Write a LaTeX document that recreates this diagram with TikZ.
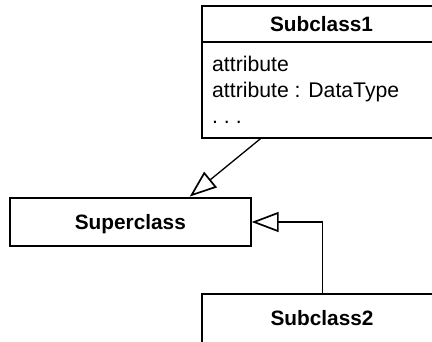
\documentclass[tikz,border=0pt]{standalone}
\usepackage{fontspec}
\setmainfont{Liberation Sans}
\usetikzlibrary{arrows.meta}

\tikzset{
  classbox/.style={draw, line width=2pt, rectangle, inner sep=0pt, fill=white},
  classname/.style={font=\fontsize{20.8}{25}\selectfont\bfseries, inner sep=0pt, anchor=base},
  attrtext/.style={font=\fontsize{21.2}{26}\selectfont, inner sep=0pt, anchor=base west},
  generalization/.style={line width=1.3pt,
    -{Triangle[open, length=27pt, width=20pt, line width=1.7pt]}},
}

\begin{document}
\begin{tikzpicture}[x=1pt, y=-1pt]
  \useasboundingbox (0,0) rectangle (432,341);
  \fill[white] (0,0) rectangle (432,341);
  \clip (0,0) rectangle (432,341);

  % Subclass1 with attribute compartment
  \node[classbox, minimum width=239pt, minimum height=131.8pt] (sub1) at (321.5,71.6) {};
  \draw[line width=2pt] (sub1.west |- 0,42.3) coordinate (sub1div) -- (sub1.east |- 0,42.3);
  \node[classname] (sub1name) at (321.5,31) {Subclass1};
  \node[attrtext] (attr1) at (212,71.7) {attribute};
  \node[attrtext] (attr2) at (212,97) {attribute : DataType};
  \node[attrtext] (attr3) at (212,123.5) {.\ .\ .};

  % Superclass
  \node[classbox, minimum width=240.7pt, minimum height=48.8pt] (sup) at (130.35,222) {};
  \node[classname] (supname) at (130.35,229.3) {Superclass};

  % Subclass2 (runs past the lower edge)
  \node[classbox, minimum width=239.5pt, minimum height=100pt] (sub2) at (322,344.3) {};
  \node[classname] (sub2name) at (322,325) {Subclass2};

  % generalization arrows
  \draw[generalization] ([xshift=59.7pt]sub1.south west) -- ([xshift=180.7pt]sup.north west);
  \draw[generalization] ([xshift=0.7pt]sub2.north) |- (sup.east);
\end{tikzpicture}
\end{document}
